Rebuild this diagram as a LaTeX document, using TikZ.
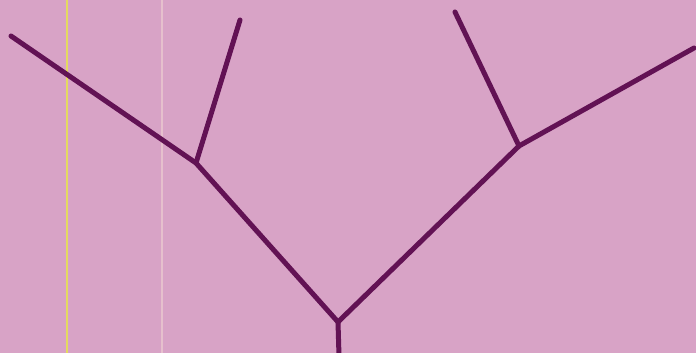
\documentclass[tikz,border=0pt]{standalone}
\definecolor{paper}{RGB}{216,163,198}
\definecolor{ink}{RGB}{98,18,84}
\definecolor{yline}{RGB}{228,218,95}
\definecolor{pline}{RGB}{230,192,205}
\begin{document}
\begin{tikzpicture}[x=1pt,y=-1pt,
  branch/.style={draw=ink,line width=5pt,line cap=round,line join=round}]
\fill[paper] (0,0) rectangle (696,353);
\useasboundingbox (0,0) rectangle (696,353);
\draw[yline,line width=1.6pt] (67,0) -- (67,353);
\draw[pline,line width=1.2pt] (162,0) -- (162,353);
\coordinate (root) at (339,356);
\coordinate (j) at (338,322);
\coordinate (jl) at (196,163);
\coordinate (jr) at (519,146);
\coordinate (ll) at (11,36);
\coordinate (lt) at (240,20);
\coordinate (rr) at (694,48);
\coordinate (rt) at (455,12);
\draw[branch] (root) -- (j);
\draw[branch] (j) -- (jl) -- (ll);
\draw[branch] (jl) -- (lt);
\draw[branch] (j) -- (jr) -- (rr);
\draw[branch] (jr) -- (rt);
\end{tikzpicture}
\end{document}
